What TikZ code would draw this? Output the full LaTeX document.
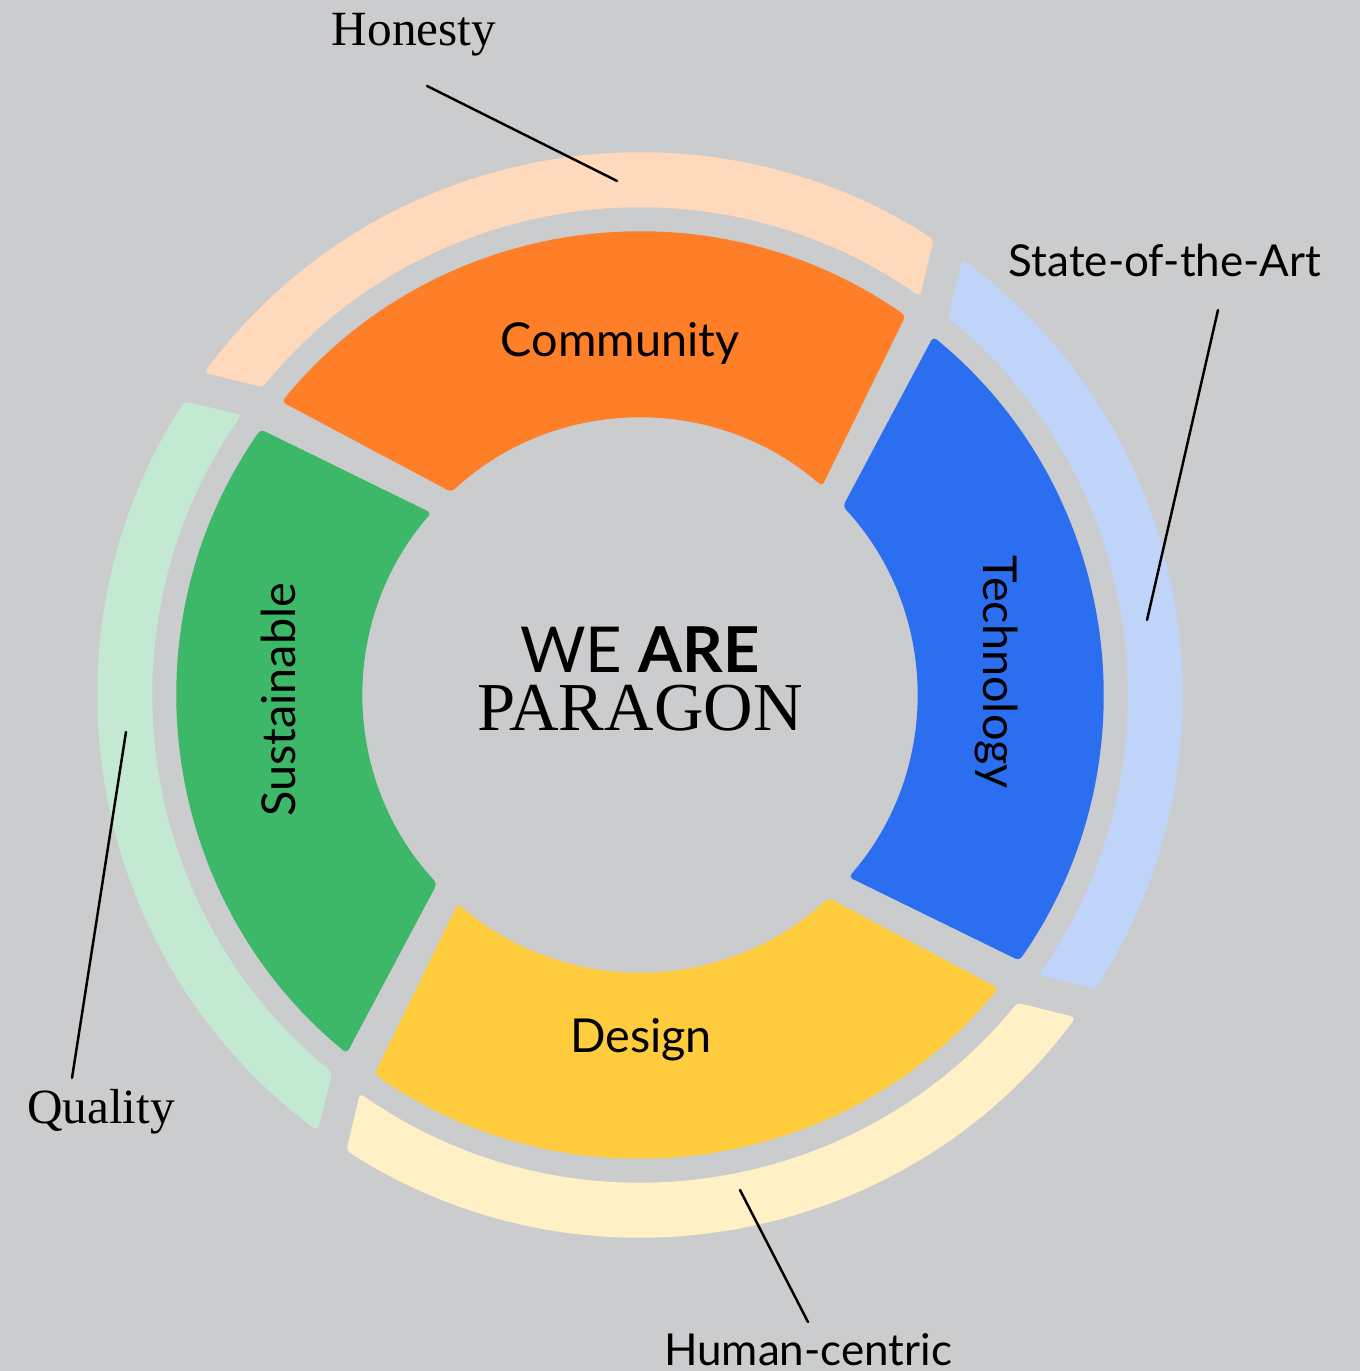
\documentclass[tikz,border=0pt]{standalone}
\usepackage{fontspec}
\setmainfont{Liberation Serif}
\newfontfamily\sanslabel{Lato}
\tikzset{
  ring/.style={rounded corners=1.2pt},
  seg-label/.style={font=\sanslabel\fontsize{13.3}{15}\selectfont, inner sep=0pt},
  value-sans/.style={font=\sanslabel\fontsize{12.5}{14}\selectfont, inner sep=0pt},
  value-serif/.style={font=\fontsize{14}{16}\selectfont, inner sep=0pt},
  leader/.style={draw=black, line width=0.7pt, line cap=round}
}
\definecolor{paper}{RGB}{203,204,206}
\definecolor{segorange}{RGB}{255,127,41}
\definecolor{seggreen}{RGB}{60,184,104}
\definecolor{segyellow}{RGB}{255,204,62}
\definecolor{segblue}{RGB}{43,110,240}
\definecolor{palepeach}{RGB}{255,217,187}
\definecolor{palegreen}{RGB}{195,233,211}
\definecolor{paleyellow}{RGB}{255,240,198}
\definecolor{paleblue}{RGB}{192,212,250}
% inner coloured band, #1 = rotation, #2 = colour
\newcommand{\innerpart}[2]{
  \fill[ring, #2] ({#1+55}:463) arc[start angle={#1+55}, end angle={#1+140.7}, radius=463]
    -- ({#1+132.9}:277) arc[start angle={#1+132.9}, end angle={#1+48.9}, radius=277] -- cycle;
}
% outer pale band
\newcommand{\outerpart}[2]{
  \fill[ring, #2] ({#1+57.2}:542) arc[start angle={#1+57.2}, end angle={#1+143.5}, radius=542]
    -- ({#1+140.8}:487) arc[start angle={#1+140.8}, end angle={#1+54.9}, radius=487] -- cycle;
}

\begin{document}
\begin{tikzpicture}[x=0.01cm, y=0.01cm]
  \fill[paper] (-640,-676) rectangle (720,695);
  \useasboundingbox (-640,-676) rectangle (720,695);

  % Outer ring (values)
  \outerpart{0}{palepeach}
  \outerpart{90}{palegreen}
  \outerpart{180}{paleyellow}
  \outerpart{270}{paleblue}

  % Inner ring (pillars)
  \innerpart{0}{segorange}
  \innerpart{90}{seggreen}
  \innerpart{180}{segyellow}
  \innerpart{270}{segblue}

  % Pillar labels
  \node[seg-label] (community) at (-20,352) {Community};
  \node[seg-label, rotate=90] (sustainable) at (-362,-5) {Sustainable};
  \node[seg-label] (design) at (1,-345) {Design};
  \node[seg-label, rotate=-90] (technology) at (356,23) {Technology};

  % Centre title
  \node[font=\fontsize{19.5}{16.5}\selectfont, align=center, inner sep=0pt] (title) at (0,16)
    {{\sanslabel\fontsize{18}{16.5}\selectfont WE \textbf{ARE}}\\PARAGON};

  % Values with leader lines
  \node[value-serif] (honesty) at (-226,660) {Honesty};
  \coordinate (honesty-a) at (-213,609);
  \coordinate (honesty-b) at (-23,514);
  \draw[leader] (honesty-a) -- (honesty-b);

  \node[value-sans] (state-art) at (525,434) {State-of-the-Art};
  \coordinate (state-art-a) at (578,385);
  \coordinate (state-art-b) at (507,75);
  \draw[leader] (state-art-a) -- (state-art-b);

  \node[value-serif] (quality) at (-539,-417) {Quality};
  \coordinate (quality-a) at (-514,-37);
  \coordinate (quality-b) at (-568,-383);
  \draw[leader] (quality-a) -- (quality-b);

  \node[value-sans] (human) at (168,-655) {Human-centric};
  \coordinate (human-a) at (100,-495);
  \coordinate (human-b) at (168,-627);
  \draw[leader] (human-a) -- (human-b);
\end{tikzpicture}
\end{document}
